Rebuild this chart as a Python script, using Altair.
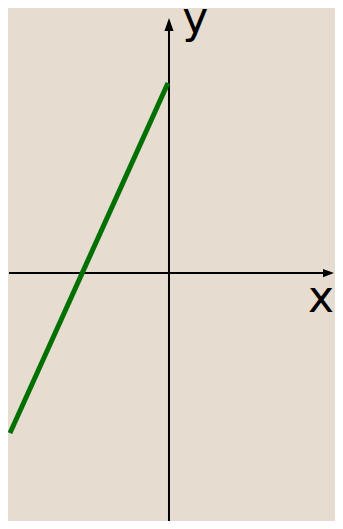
import altair as alt
import pandas as pd

# green line end points (math coords)
line_x = [-3.614, -0.023]
line_y = [-3.37, 4.0]

# axis extents
haxis_x = [-3.636, 3.6]
haxis_y = [0, 0]
vaxis_x = [0, 0]
vaxis_y = [-5.3, 5.2]

# arrow heads
arrow_x = [3.625, 0]
arrow_y = [0, 5.232]
arrow_shape = ["M1,0L-1,-0.75L-1,0.75Z", "M0,-1L0.7,1L-0.7,1Z"]
arrow_size = [121, 169]

# axis labels
label_text = ["y", "x"]
label_x = [0.30, 3.16]
label_y = [5.05, -0.82]

xs = alt.Scale(domain=[-3.659, 3.773], nice=False, zero=False)
ys = alt.Scale(domain=[-5.221, 5.5789], nice=False, zero=False)

line_df = pd.DataFrame({"x": line_x, "y": line_y})
h_df = pd.DataFrame({"x": haxis_x, "y": haxis_y})
v_df = pd.DataFrame({"x": vaxis_x, "y": vaxis_y})
arr_df = pd.DataFrame({"x": arrow_x, "y": arrow_y, "shape": arrow_shape, "size": arrow_size})
lab_df = pd.DataFrame({"t": label_text, "x": label_x, "y": label_y})

def X():
    return alt.X("x:Q", scale=xs, axis=None)

def Y():
    return alt.Y("y:Q", scale=ys, axis=None)

haxis = alt.Chart(h_df).mark_line(color="black", strokeWidth=2, clip=False).encode(x=X(), y=Y())
vaxis = alt.Chart(v_df).mark_line(color="black", strokeWidth=2, clip=False).encode(x=X(), y=Y())
arrows = alt.Chart(arr_df).mark_point(filled=True, color="black", opacity=1, strokeWidth=0).encode(
    x=X(), y=Y(),
    shape=alt.Shape("shape:N", scale=None),
    size=alt.Size("size:Q", scale=None),
)
green = alt.Chart(line_df).mark_line(color="#007000", strokeWidth=5, strokeCap="butt").encode(x=X(), y=Y())
labels = alt.Chart(lab_df).mark_text(
    font="DejaVu Sans", fontSize=44, align="left", baseline="alphabetic", color="black"
).encode(x=X(), y=Y(), text="t:N")

chart = alt.layer(haxis, vaxis, green, arrows, labels).properties(
    width=327, height=513, padding=0, autosize=alt.AutoSizeParams(type="none"),
    background="#e6ddd0",
).configure_view(stroke=None)

chart.save("out.html", embed_options={"renderer": "svg", "actions": False})
